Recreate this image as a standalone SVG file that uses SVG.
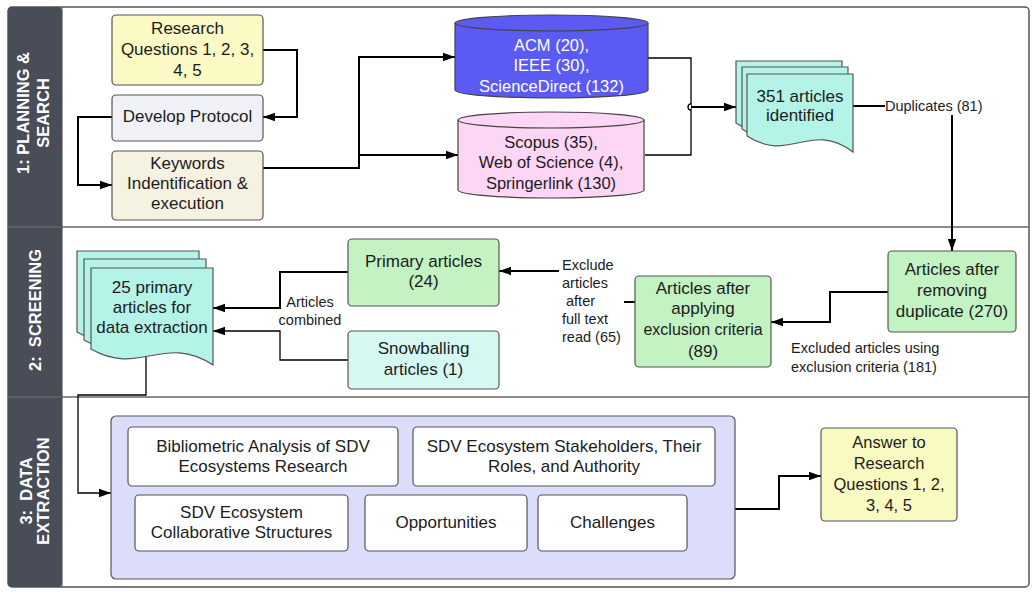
<svg xmlns="http://www.w3.org/2000/svg" width="1033" height="595" viewBox="0 0 1033 595">
<defs>
<marker id="ah" markerWidth="12" markerHeight="10" refX="12" refY="5" orient="auto" markerUnits="userSpaceOnUse"><path d="M0,0.8 L12,5 L0,9.2 Z" fill="#000"/></marker>
<style>
.t{font-family:"Liberation Sans",Arial,sans-serif;font-size:17px;fill:#1c1c1c;text-anchor:middle}
.m{font-size:16.5px}
.n{font-size:16px}
.s{font-family:"Liberation Sans",Arial,sans-serif;font-size:14.5px;fill:#1c1c1c}
.lane{font-family:"Liberation Sans",Arial,sans-serif;font-size:16.5px;font-weight:bold;fill:#ffffff;text-anchor:middle}
.box{stroke:#555;stroke-width:1.2}
.c{fill:none;stroke:#000;stroke-width:2}
.ct{fill:none;stroke:#000;stroke-width:1.3}
.doc{fill:#b3f3e8;stroke:#555;stroke-width:1.2}
</style>
</defs>
<g id="frame">
<rect x="8" y="7" width="1021" height="580" rx="4" fill="#fff" stroke="#555" stroke-width="1.5"/>
<rect x="8" y="7" width="54" height="580" rx="4" fill="#484d57"/>
<line x1="8" y1="227" x2="1029" y2="227" stroke="#666" stroke-width="1.5"/>
<line x1="8" y1="397" x2="1029" y2="397" stroke="#666" stroke-width="1.5"/>
<line x1="62" y1="7" x2="62" y2="587" stroke="#444" stroke-width="1"/>
<text class="lane" transform="translate(35,113) rotate(-90)"><tspan x="0" y="-6">1: PLANNING &amp;</tspan><tspan x="0" y="14">SEARCH</tspan></text>
<text class="lane" transform="translate(35,310) rotate(-90)"><tspan x="0" y="6">2:&#160; SCREENING</tspan></text>
<text class="lane" transform="translate(34,491) rotate(-90)"><tspan x="0" y="-2.5">3:&#160; DATA</tspan><tspan x="0" y="14.5">EXTRACTION</tspan></text>
</g>
<g id="connectors">
<path class="c" d="M263,50 H297 V117 H263" marker-end="url(#ah)"/>
<path class="c" d="M112,117 H78 V185 H112" marker-end="url(#ah)"/>
<path class="c" d="M263,168 H359 V57 H455" marker-end="url(#ah)"/>
<path class="c" d="M359,155 H458" marker-end="url(#ah)"/>
<path class="ct" d="M648,58 H691 V155 H645"/>
<path d="M691,104 A3,3 0 0 0 691,110" fill="#fff" stroke="#000" stroke-width="1.3"/>
<path class="c" d="M691,107 H736" marker-end="url(#ah)"/>
<path class="c" d="M853,106 H885"/>
<path class="c" d="M952,115 V251" marker-end="url(#ah)"/>
<path class="c" d="M888,292 H830 V322 H771" marker-end="url(#ah)"/>
<path class="c" d="M635,302 H592 V271 H499" marker-end="url(#ah)"/>
<path class="c" d="M348,272 H280 V308 H213" marker-end="url(#ah)"/>
<path class="ct" d="M348,360 H280 V331 H213" marker-end="url(#ah)"/>
<path class="ct" d="M146,350 V395 H78 V493 H111" marker-end="url(#ah)"/>
<path class="c" d="M735,509 H779 V476 H821" marker-end="url(#ah)"/>
<text class="s" x="885" y="111">Duplicates (81)</text>
<text class="s" x="791" y="353">Excluded articles using</text>
<text class="s" x="791" y="372">exclusion criteria (181)</text>
<rect x="559" y="255" width="65" height="90" fill="#fff"/>
<text class="s" x="562" y="270">Exclude</text>
<text class="s" x="562" y="288">articles</text>
<text class="s" x="562" y="306">&#160;after</text>
<text class="s" x="562" y="324">full text</text>
<text class="s" x="562" y="342">read (65)</text>
<text class="s" x="310" y="307" text-anchor="middle">Articles</text>
<text class="s" x="310" y="325" text-anchor="middle">combined</text>
</g>
<g id="rq">
<rect class="box" x="112" y="15" width="151" height="70" rx="4" fill="#fbf9c4"/>
<text class="t" x="187.5" y="34">Research</text>
<text class="t" x="187.5" y="55">Questions 1, 2, 3,</text>
<text class="t" x="187.5" y="76">4, 5</text>
</g>
<g id="protocol">
<rect class="box" x="112" y="95" width="151" height="46" rx="4" fill="#f0f1f6"/>
<text class="t" x="187.5" y="122">Develop Protocol</text>
</g>
<g id="keywords">
<rect class="box" x="112" y="151" width="151" height="69" rx="4" fill="#f6f2e1"/>
<text class="t" x="187.5" y="169">Keywords</text>
<text class="t" x="187.5" y="189">Indentification &amp;</text>
<text class="t" x="187.5" y="209">execution</text>
</g>
<g id="acm">
<path d="M455,23 A96.5,8 0 0 1 648,23 V90 A96.5,8 0 0 1 455,90 Z" fill="#5b5bf3" stroke="#444" stroke-width="1.2"/>
<path d="M455,23 A96.5,8 0 0 0 648,23" fill="none" stroke="#444" stroke-width="1.2"/>
<text class="t m" x="551.5" y="51" style="fill:#fff">ACM (20),</text>
<text class="t m" x="551.5" y="71" style="fill:#fff">IEEE (30),</text>
<text class="t m" x="551.5" y="92" style="fill:#fff">ScienceDirect (132)</text>
</g>
<g id="scopus">
<path d="M458,120 A93,8 0 0 1 644,120 V190 A93,8 0 0 1 458,190 Z" fill="#fdd5f5" stroke="#444" stroke-width="1.2"/>
<path d="M458,120 A93,8 0 0 0 644,120" fill="none" stroke="#444" stroke-width="1.2"/>
<text class="t m" x="551" y="148">Scopus (35),</text>
<text class="t m" x="551" y="168">Web of Science (4),</text>
<text class="t m" x="551" y="189">Springerlink (130)</text>
</g>
<g id="identified">
<path class="doc" d="M736,61 H842 V139 C799.6,107 778.4,151 736,123 Z"/>
<path class="doc" d="M742,67 H848 V145 C805.6,113 784.4,157 742,129 Z"/>
<path class="doc" d="M747,74 H853 V152 C810.6,120 789.4,164 747,136 Z"/>
<text class="t" x="800" y="102">351 articles</text>
<text class="t" x="800" y="121">identified</text>
</g>
<g id="removing">
<rect class="box" x="888" y="251" width="128" height="81" rx="4" fill="#c3f2c3"/>
<text class="t" x="952" y="275">Articles after</text>
<text class="t" x="952" y="296">removing</text>
<text class="t" x="952" y="317">duplicate (270)</text>
</g>
<g id="applying">
<rect class="box" x="635" y="276" width="136" height="91" rx="4" fill="#c3f2c3"/>
<text class="t" x="703" y="294">Articles after</text>
<text class="t" x="703" y="314">applying</text>
<text class="t n" x="703" y="335">exclusion criteria</text>
<text class="t" x="703" y="357">(89)</text>
</g>
<g id="primary">
<rect class="box" x="348" y="239" width="151" height="67" rx="4" fill="#c3f2c3"/>
<text class="t" x="423.5" y="267">Primary articles</text>
<text class="t" x="423.5" y="287">(24)</text>
</g>
<g id="snowballing">
<rect class="box" x="348" y="331" width="151" height="58" rx="4" fill="#d6f8f3"/>
<text class="t" x="423.5" y="354">Snowballing</text>
<text class="t" x="423.5" y="375">articles (1)</text>
</g>
<g id="extraction-docs">
<path class="doc" d="M77,251 H199 V348 C150.2,316 125.8,360 77,332 Z"/>
<path class="doc" d="M84,259 H206 V356 C157.2,324 132.8,368 84,340 Z"/>
<path class="doc" d="M91,268 H213 V365 C164.2,333 139.8,377 91,349 Z"/>
<text class="t" x="152" y="293">25 primary</text>
<text class="t" x="152" y="313">articles for</text>
<text class="t" x="152" y="333">data extraction</text>
</g>
<g id="data-extraction">
<rect class="box" x="111" y="416" width="624" height="163" rx="5" fill="#dcdcfb"/>
<g id="bibliometric">
<rect class="box" x="128" y="427" width="270" height="59" rx="4" fill="#fff"/>
<text class="t" x="263" y="452">Bibliometric Analysis of SDV</text>
<text class="t" x="263" y="472">Ecosystems Research</text>
</g>
<g id="stakeholders">
<rect class="box" x="413" y="427" width="302" height="59" rx="4" fill="#fff"/>
<text class="t" x="564" y="452">SDV Ecosystem Stakeholders, Their</text>
<text class="t" x="564" y="472">Roles, and Authority</text>
</g>
<g id="collaborative">
<rect class="box" x="135" y="495" width="213" height="56" rx="4" fill="#fff"/>
<text class="t" x="241.5" y="518">SDV Ecosystem</text>
<text class="t" x="241.5" y="538">Collaborative Structures</text>
</g>
<g id="opportunities">
<rect class="box" x="365" y="495" width="162" height="56" rx="4" fill="#fff"/>
<text class="t" x="446" y="528">Opportunities</text>
</g>
<g id="challenges">
<rect class="box" x="538" y="495" width="149" height="56" rx="4" fill="#fff"/>
<text class="t" x="612.5" y="528">Challenges</text>
</g>
</g>
<g id="answer">
<rect class="box" x="821" y="428" width="136" height="93" rx="4" fill="#f9f9c2"/>
<text class="t m" x="889" y="448">Answer to</text>
<text class="t m" x="889" y="469">Research</text>
<text class="t m" x="889" y="490">Questions 1, 2,</text>
<text class="t m" x="889" y="511">3, 4, 5</text>
</g>
</svg>
